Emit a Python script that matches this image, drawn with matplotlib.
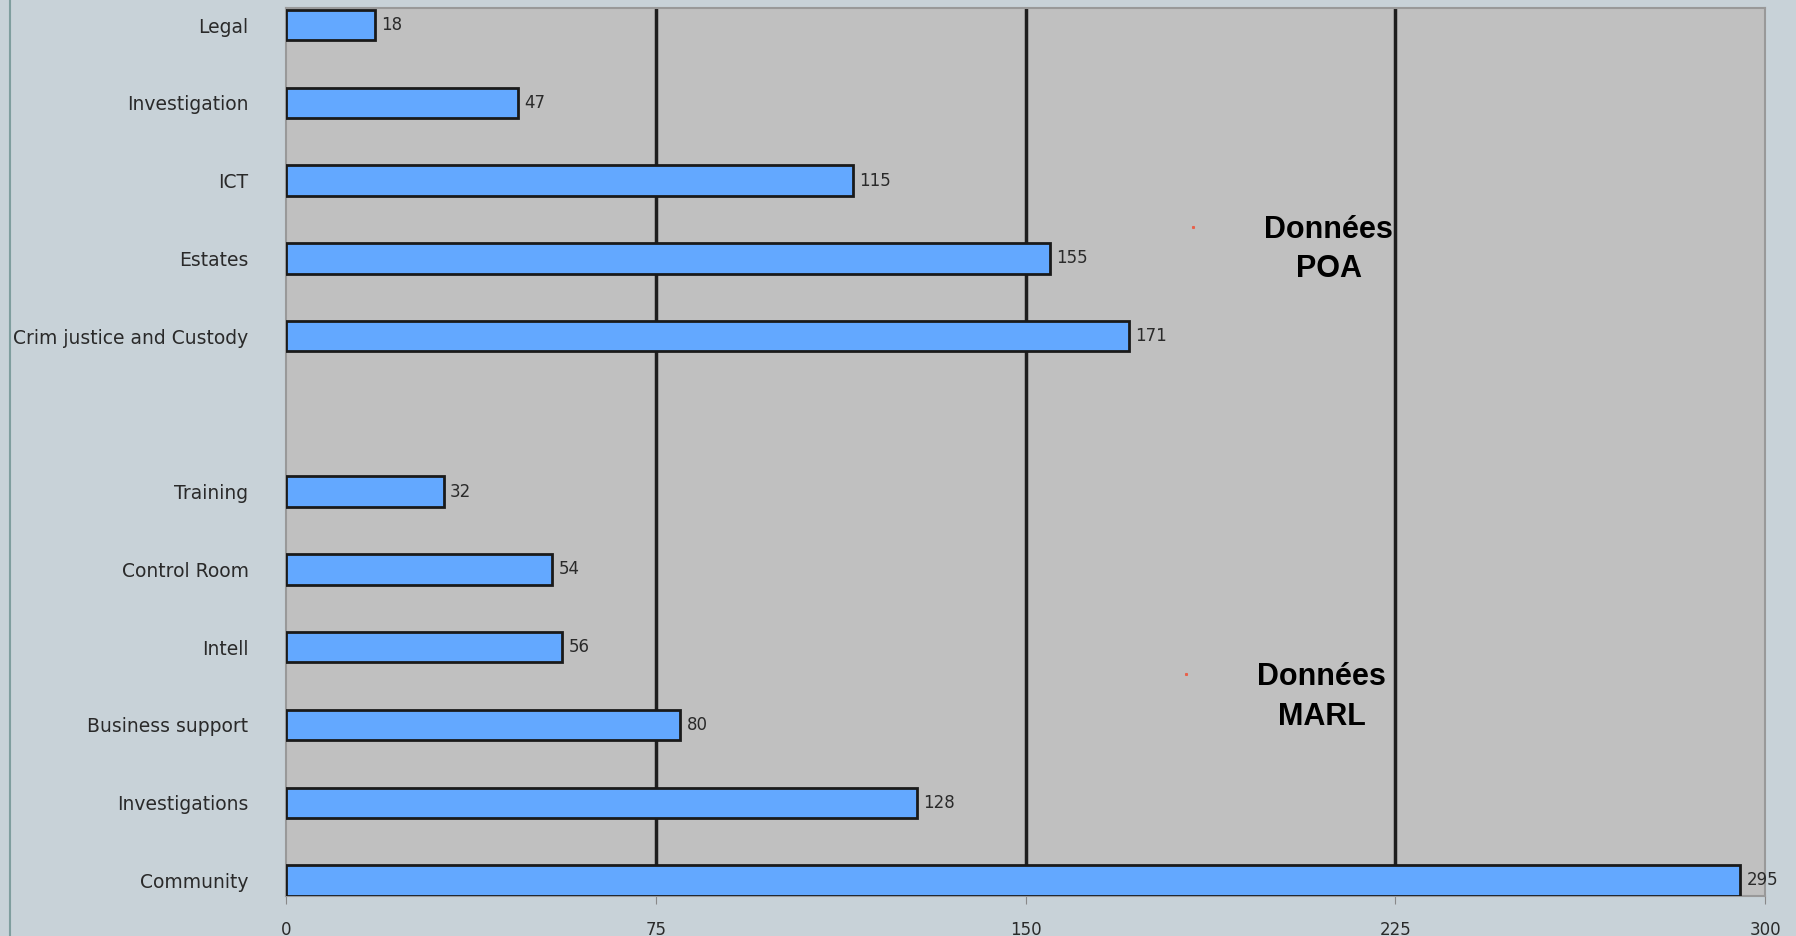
import matplotlib
matplotlib.use("Agg")
import matplotlib.pyplot as plt
import numpy as np

# -> Data (top to bottom, blank row separates the two sources)
categories = ["Legal", "Investigation", "ICT", "Estates", "Crim justice and Custody", "",
              "Training", "Control Room", "Intell", "Business support", "Investigations", "Community"]
values = [18, 47, 115, 155, 171, None, 32, 54, 56, 80, 128, 295]
x_ticks = [0, 75, 150, 225, 300]

plt.rcParams['font.family'] = ['DejaVu Sans']

fig = plt.figure(figsize=(17.96, 9.36), dpi=100)
fig.patch.set_facecolor("#C8D2D8")
ax = fig.add_axes([286 / 1796, 1 - 896 / 936, (1765 - 286) / 1796, (896 - 8) / 936])
ax.set_facecolor("#C0C0C0")

# left border line of the slide
fig.add_artist(plt.Line2D([10 / 1796, 10 / 1796], [0, 1], color="#7F9E9E", lw=1.5))

pos = np.arange(len(categories))
for i, v in zip(pos, values):
    if v is None:
        continue
    ax.barh(i, v, height=0.39, color="#63A8FF", edgecolor="#1A1A1A", linewidth=2, zorder=3)
    ax.text(v + 1.3, i, str(v), va="center", ha="left", fontsize=12, color="#2A2A2A", zorder=4)

ax.set_xlim(0, 300)
ax.set_ylim(11.2, -0.22)
ax.set_xticks(x_ticks)
ax.set_xticklabels([str(t) for t in x_ticks], fontsize=12, color="#2A2A2A")
ax.set_yticks(pos)
ax.set_yticklabels(categories, fontsize=13.5, color="#2A2A2A")
ax.tick_params(axis="y", length=0, pad=27)
ax.tick_params(axis="x", length=6, color="#888888", pad=12)

for t in x_ticks[1:-1]:
    ax.axvline(t, color="#1E1E1E", lw=2.5, zorder=2)

for s in ax.spines.values():
    s.set_color("#999999")
    s.set_linewidth(1.5)

# source annotations
ann_font = ['Liberation Sans', 'DejaVu Sans']
ax.text(211.5, 2.89, "Données\nPOA", ha="center", va="center", fontsize=22, fontweight="bold",
        linespacing=1.4, color="black", zorder=5, family=ann_font)
ax.text(210.1, 8.64, "Données\nMARL", ha="center", va="center", fontsize=22, fontweight="bold",
        linespacing=1.4, color="black", zorder=5, family=ann_font)
ax.plot([184, 182.5], [2.6, 8.35], ls="none", marker="s", ms=1.2, color="#E8604A", zorder=5)

fig.savefig("out.png", dpi=100, facecolor=fig.get_facecolor())
